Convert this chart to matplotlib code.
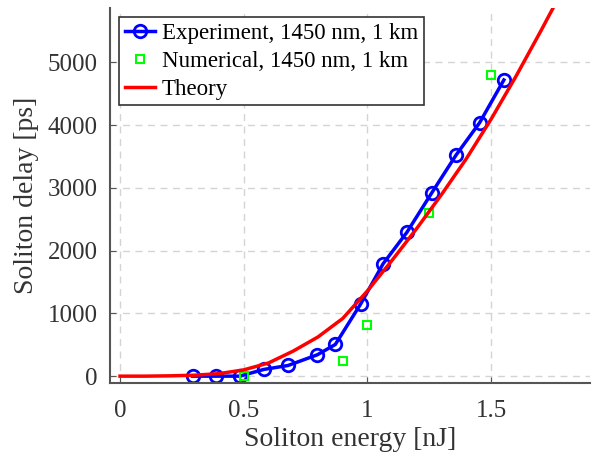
import matplotlib.pyplot as plt

# experiment, 1450 nm, 1 km
exp_energy = [0.293, 0.387, 0.484, 0.581, 0.679, 0.797, 0.870, 0.972, 1.063, 1.159, 1.260, 1.358, 1.453, 1.551]
exp_delay = [0, 0, 0, 107, 170, 340, 505, 1148, 1791, 2292, 2924, 3525, 4040, 4721]

# numerical simulation
num_energy = [0.5, 0.9, 1.0, 1.25, 1.5]
num_delay = [5, 244, 813, 2595, 4796]

# theory curve
th_energy = [0, 0.1, 0.2, 0.3, 0.4, 0.5, 0.6, 0.7, 0.8, 0.9, 1.0, 1.1, 1.2, 1.3, 1.4, 1.5, 1.6, 1.7, 1.75]
th_delay = [0, 0, 5, 15, 40, 100, 210, 400, 625, 920, 1360, 1850, 2360, 2900, 3470, 4100, 4780, 5500, 5870]

plt.rcParams['font.family'] = ['Liberation Serif', 'DejaVu Serif']

fig = plt.figure(figsize=(5.92, 4.66), dpi=100)
ax = fig.add_axes([0.186, 0.178, 0.811, 0.805])

ax.plot(exp_energy, exp_delay, color="blue", lw=2.5, marker="o", ms=9,
        mfc="none", mew=2, label="Experiment, 1450 nm, 1 km")
ax.plot(num_energy, num_delay, ls="none", marker="s", ms=6, mfc="none",
        mec="#00ff00", mew=1.5, label="Numerical, 1450 nm, 1 km")
ax.plot(th_energy, th_delay, color="red", lw=2.5, label="Theory")

ax.set_xlim(-0.04, 1.90)
ax.set_ylim(-110, 5870)
ax.set_xticks([0, 0.5, 1, 1.5])
ax.set_xticklabels(["0", "0.5", "1", "1.5"])
ax.set_yticks([0, 1000, 2000, 3000, 4000, 5000])

ax.grid(True, ls=(0, (5, 4)), color="#d4d4d4", lw=1)
for s in ["top", "right"]:
    ax.spines[s].set_visible(False)
for s in ["left", "bottom"]:
    ax.spines[s].set_color("#555555")
    ax.spines[s].set_linewidth(1.5)
ax.tick_params(direction="in", length=4, color="#555555", labelsize=18, labelcolor="#333333")
ax.tick_params(axis="x", pad=12)
ax.tick_params(axis="y", pad=9)

ax.set_xlabel("Soliton energy [nJ]", fontsize=20, color="#333333", labelpad=4)
ax.set_ylabel("Soliton delay [ps]", fontsize=20, color="#333333", labelpad=6)

leg = ax.legend(loc="upper left", fontsize=16.5, fancybox=False, framealpha=1,
                edgecolor="#333333", borderpad=0.25, handlelength=1.3,
                handletextpad=0.3, labelspacing=0.3, borderaxespad=0.4)
leg.get_frame().set_linewidth(1.2)

fig.savefig("out.png")
